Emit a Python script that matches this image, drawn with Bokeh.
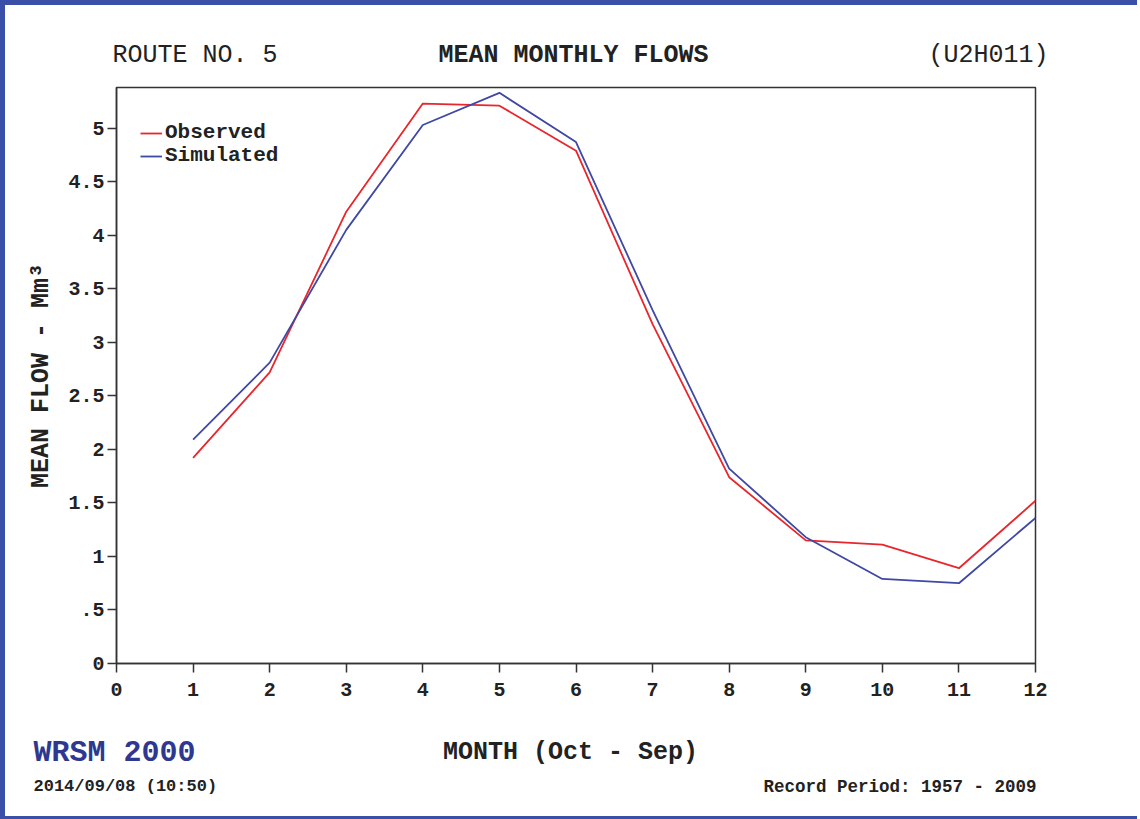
from bokeh.plotting import figure
from bokeh.models import Label, FixedTicker, Legend, LegendItem, Range1d
from bokeh.layouts import column
from bokeh.embed import file_html
from bokeh.resources import INLINE

# ---- data ----
months = [1, 2, 3, 4, 5, 6, 7, 8, 9, 10, 11, 12]
observed = [1.92, 2.72, 4.22, 5.23, 5.21, 4.79, 3.17, 1.74, 1.15, 1.11, 0.89, 1.52]
simulated = [2.09, 2.81, 4.05, 5.03, 5.33, 4.87, 3.30, 1.82, 1.18, 0.79, 0.75, 1.36]
x_ticks = [0, 1, 2, 3, 4, 5, 6, 7, 8, 9, 10, 11, 12]
y_ticks = [0, 0.5, 1, 1.5, 2, 2.5, 3, 3.5, 4, 4.5, 5]
y_tick_labels = ["0", ".5", "1", "1.5", "2", "2.5", "3", "3.5", "4", "4.5", "5"]

FONT = "Liberation Mono"
RED = "#e8262c"
BLUE = "#3f48a3"
DARK = "#222222"
W = 1132

# ---- main chart ----
p = figure(
    frame_width=919, frame_height=576,
    x_range=Range1d(0, 12), y_range=Range1d(0, 5.38),
    output_backend="svg", toolbar_location=None,
    min_border_left=111, min_border_right=W - 111 - 919, min_border_top=10, min_border_bottom=50,
    background_fill_color="white", border_fill_color="white",
)
p.grid.visible = False
p.outline_line_color = "#333333"
p.outline_line_width = 1.5

for ax in (p.xaxis[0], p.yaxis[0]):
    ax.axis_line_color = "#333333"
    ax.axis_line_width = 1.5
    ax.major_tick_line_color = "#333333"
    ax.major_tick_line_width = 1.5
    ax.major_tick_in = 0
    ax.major_tick_out = 9
    ax.minor_tick_line_color = None
    ax.major_label_text_font = FONT
    ax.major_label_text_font_style = "bold"
    ax.major_label_text_font_size = "20px"
    ax.major_label_text_color = DARK
    ax.axis_label_text_font = FONT
    ax.axis_label_text_font_style = "bold"
    ax.axis_label_text_font_size = "25px"
    ax.axis_label_text_color = DARK

p.xaxis.ticker = FixedTicker(ticks=x_ticks)
p.yaxis.ticker = FixedTicker(ticks=y_ticks)
p.yaxis.major_label_overrides = {t: s for t, s in zip(y_ticks, y_tick_labels)}
p.xaxis.major_label_standoff = 10
p.yaxis.major_label_standoff = 3
p.yaxis.axis_label = "MEAN FLOW - Mm\u00b3"
p.yaxis.axis_label_standoff = 9

r_obs = p.line(months, observed, line_color=RED, line_width=1.8)
r_sim = p.line(months, simulated, line_color=BLUE, line_width=1.8)

legend = Legend(
    items=[LegendItem(label="Observed", renderers=[r_obs]),
           LegendItem(label="Simulated", renderers=[r_sim])],
    location=(24, 496), padding=0, margin=0, spacing=-8,
    glyph_width=22, glyph_height=16, label_height=16, label_standoff=3,
    label_text_font=FONT, label_text_font_style="bold", label_text_font_size="21px",
    label_text_color=DARK, border_line_color=None, background_fill_alpha=0,
)
p.add_layout(legend)


def strip(height):
    s = figure(width=W, height=height, x_range=Range1d(0, 1), y_range=Range1d(0, 1),
               x_axis_type=None, y_axis_type=None, output_backend="svg",
               toolbar_location=None, min_border=0)
    s.min_border_left = 0
    s.min_border_right = 0
    s.min_border_top = 0
    s.min_border_bottom = 0
    if "frame_align" in s.properties():
        s.frame_align = False
    s.grid.visible = False
    s.outline_line_color = None
    s.background_fill_color = "white"
    s.border_fill_color = "white"
    return s


def lab(fig, x, y, text, align, size, color=DARK, style="bold"):
    fig.add_layout(Label(x=x, y=y, x_units="screen", y_units="screen", text=text,
                         text_align=align, text_baseline="middle",
                         text_font=FONT, text_font_size=size, text_font_style=style,
                         text_color=color))


top = strip(72)
lab(top, 107, 22, "ROUTE NO. 5", "left", "25px", style="normal")
lab(top, 568, 22, "MEAN MONTHLY FLOWS", "center", "25px")
lab(top, 1043, 22, "(U2H011)", "right", "25px", style="normal")

bottom = strip(103)
lab(bottom, 565, 64, "MONTH (Oct - Sep)", "center", "25px")
lab(bottom, 28, 64, "WRSM 2000", "left", "30px", color="#2e3891")
lab(bottom, 28, 30, "2014/09/08 (10:50)", "left", "17px")
lab(bottom, 1031, 30, "Record Period: 1957 - 2009", "right", "17.5px")

if "frame_align" in p.properties():
    p.frame_align = False

layout = column(top, p, bottom, spacing=0)
layout.styles = {"border-left": "5px solid #3a4fa8", "border-top": "5px solid #3a4fa8",
                 "border-bottom": "3px solid #3a4fa8"}

open("out.html", "w").write(file_html(layout, INLINE))
